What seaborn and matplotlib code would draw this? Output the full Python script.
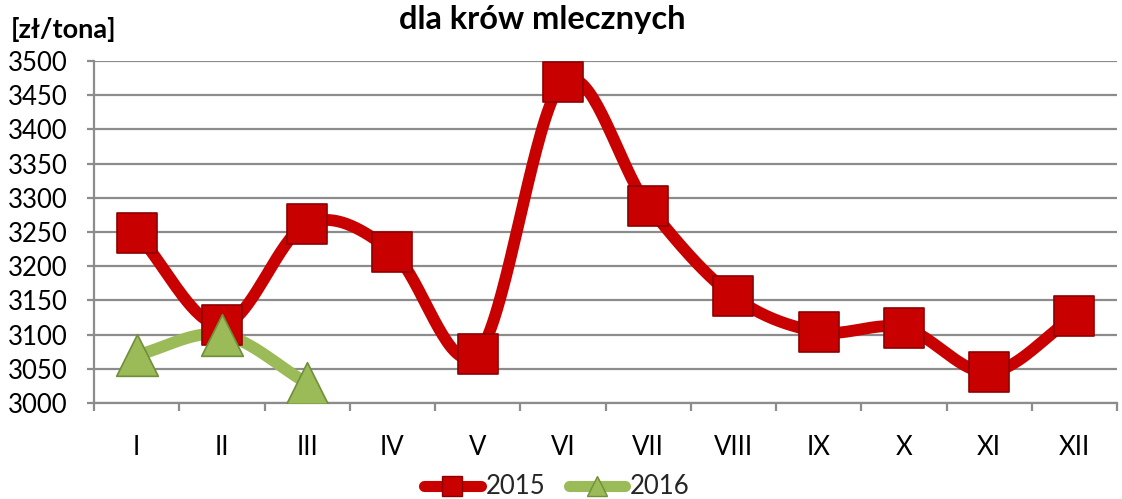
import numpy as np
import pandas as pd
import matplotlib
matplotlib.use("Agg")
import matplotlib.pyplot as plt
import seaborn as sns
from matplotlib.lines import Line2D

months = ["I", "II", "III", "IV", "V", "VI", "VII", "VIII", "IX", "X", "XI", "XII"]
values_2015 = [3248, 3114, 3262, 3221, 3072, 3469, 3288, 3156, 3104, 3110, 3045, 3127]
values_2016 = [3070, 3100, 3029]
series_names = ["2015", "2016"]
y_ticks = list(range(3000, 3501, 50))

sns.set_theme(style="white")
plt.rcParams['font.family'] = ['Lato', 'DejaVu Sans']

RED = "#C80000"
RED_EDGE = "#8E0000"
GREEN = "#9BBB59"
GREEN_EDGE = "#6F8F3A"


def catmull_rom(xs, ys, n=40):
    xs = np.asarray(xs, float)
    ys = np.asarray(ys, float)
    if len(xs) < 2:
        return xs, ys
    px = np.concatenate([[2 * xs[0] - xs[1]], xs, [2 * xs[-1] - xs[-2]]])
    py = np.concatenate([[2 * ys[0] - ys[1]], ys, [2 * ys[-1] - ys[-2]]])
    ox, oy = [], []
    t = np.linspace(0, 1, n)
    for i in range(1, len(px) - 2):
        p0, p1, p2, p3 = [np.array([px[j], py[j]]) for j in (i - 1, i, i + 1, i + 2)]
        pts = 0.5 * ((2 * p1)[:, None]
                     + (-p0 + p2)[:, None] * t
                     + (2 * p0 - 5 * p1 + 4 * p2 - p3)[:, None] * t ** 2
                     + (-p0 + 3 * p1 - 3 * p2 + p3)[:, None] * t ** 3)
        ox.extend(pts[0])
        oy.extend(pts[1])
    return np.array(ox), np.array(oy)


fig = plt.figure(figsize=(11.22, 4.99), dpi=100)
W, H = 1122, 499
ax = fig.add_axes([94 / W, (H - 403) / H, (1117 - 94) / W, (403 - 61) / H])

x15 = np.arange(len(values_2015))
x16 = np.arange(len(values_2016))
sx15, sy15 = catmull_rom(x15, values_2015)
sx16, sy16 = catmull_rom(x16, values_2016)

df_s = pd.concat([
    pd.DataFrame({"x": sx15, "y": sy15, "s": "2015"}),
    pd.DataFrame({"x": sx16, "y": sy16, "s": "2016"}),
])
df_p = pd.concat([
    pd.DataFrame({"x": x15, "y": values_2015, "s": "2015"}),
    pd.DataFrame({"x": x16, "y": values_2016, "s": "2016"}),
])

for name, color in [("2015", RED), ("2016", GREEN)]:
    d = df_s[df_s.s == name]
    ax.plot(d.x, d.y, color=color, lw=8.5, solid_capstyle="round", zorder=3)

sns.scatterplot(data=df_p[df_p.s == "2015"], x="x", y="y", marker="s", s=800,
                color=RED, edgecolor=RED_EDGE, linewidth=1.2, ax=ax, zorder=4, legend=False)
sns.scatterplot(data=df_p[df_p.s == "2016"], x="x", y="y", marker="^", s=900,
                color=GREEN, edgecolor=GREEN_EDGE, linewidth=1.2, ax=ax, zorder=4, legend=False)

ax.set_xlim(-0.5, 11.5)
ax.set_ylim(3000, 3500)
ax.set_yticks(y_ticks)
ax.set_yticklabels([str(v) for v in y_ticks])
ax.set_xticks(np.arange(len(months)))
ax.set_xticklabels(months)
ax.set_xticks(np.arange(-0.5, 12, 1), minor=True)
ax.set_xlabel("")
ax.set_ylabel("")
ax.set_axisbelow(True)
ax.yaxis.grid(True, color="#8C8C8C", lw=1.6)
ax.xaxis.grid(False)
for sp in ["top", "right"]:
    ax.spines[sp].set_visible(False)
for sp in ["left", "bottom"]:
    ax.spines[sp].set_color("#8C8C8C")
    ax.spines[sp].set_linewidth(1.6)
ax.tick_params(axis="y", which="major", left=True, length=5, width=1.6, color="#8C8C8C",
               labelsize=18.5, pad=14, labelcolor="#000000")
ax.tick_params(axis="x", which="major", bottom=False, labelsize=18.5, pad=17, labelcolor="#000000")
ax.tick_params(axis="x", which="minor", bottom=True, length=6, width=1.6, color="#8C8C8C")
for lbl in ax.get_xticklabels() + ax.get_yticklabels():
    lbl.set_clip_on(False)

fig.text(542 / W, 1 - 20 / H, "dla krów mlecznych", ha="center", va="center",
         fontsize=23.5, fontweight="bold", color="#000000")
fig.text(11 / W, 1 - 30 / H, "[zł/tona]", ha="left", va="center",
         fontsize=19.5, fontweight="bold", color="#000000")

handles = [
    Line2D([0], [0], color=RED, lw=8, marker="s", markersize=15,
           markerfacecolor=RED, markeredgecolor=RED_EDGE, solid_capstyle="round"),
    Line2D([0], [0], color=GREEN, lw=8, marker="^", markersize=15,
           markerfacecolor=GREEN, markeredgecolor=GREEN_EDGE, solid_capstyle="round"),
]
fig.legend(handles, series_names, loc="center", bbox_to_anchor=(557 / W, 1 - 487 / H),
           ncol=2, frameon=False, fontsize=18.5, handlelength=2.2, handletextpad=0.2,
           columnspacing=0.9, borderaxespad=0)

fig.savefig("out.png", dpi=100)
